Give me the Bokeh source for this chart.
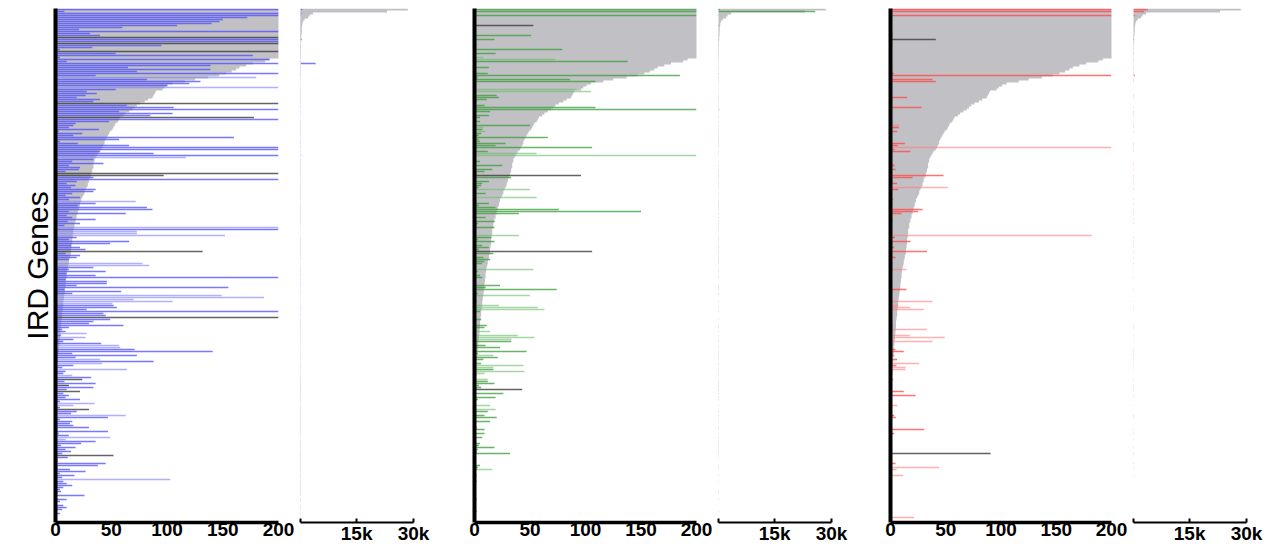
from bokeh.plotting import figure
from bokeh.layouts import row
from bokeh.models import Range1d, FixedTicker
from bokeh.embed import file_html
from bokeh.resources import INLINE

N_ROWS = 256

# reference (gray) distribution, one value per gene row (top row first)
ref_counts = [
    28500, 23000, 3500, 2600, 2200, 1300, 900, 700, 650, 550,
    520, 500, 480, 420, 400, 380, 360, 340, 300, 280,
    260, 250, 240, 220, 210, 192, 188, 177, 171, 165,
    162, 158, 153, 147, 137, 125, 116, 105, 101, 98,
    96, 90, 89, 88, 87, 83, 80, 76, 73, 71,
    69, 66, 63, 61, 58, 57, 56, 54, 53, 52,
    51, 49, 48, 47, 46, 45, 44, 44, 43, 42,
    41, 39, 38, 37, 36, 35, 35, 34, 34, 34,
    33, 33, 32, 32, 31, 30, 30, 29, 29, 28,
    27, 26, 26, 25, 24, 23, 23, 22, 22, 21,
    21, 20, 20, 19, 19, 18, 18, 17, 17, 17,
    16, 16, 16, 15.5, 15.5, 15, 15, 15, 14.5, 14.5,
    14, 14, 14, 13, 13, 12.5, 12, 12, 11.5, 11,
    10.5, 10.5, 10, 10, 10, 9.5, 9.5, 9, 9, 9,
    8.5, 8.5, 8, 8, 7.5, 7.5, 7, 7, 7, 6.5,
    6.5, 6, 6, 6, 5.5, 5.5, 5, 5, 5, 5,
    4.5, 4.5, 4.5, 4, 4, 4, 3.5, 3.5, 3.5, 3,
    3, 3, 3, 2.5, 2.5, 2.5, 2.5, 2, 2, 2,
    2, 2, 2, 1.5, 1.5, 1.5, 1.5, 1.5, 1, 1,
    1, 1, 1, 1, 1, 1, 0.5, 0.5, 0.5, 0.5,
]

# (row, count, kind)  kind: d = dark colour, l = light colour, k = dark gray
panel1_bars = [
    (0, 650, "d"), (1, 8, "d"), (2, 420, "d"), (3, 300, "d"), (4, 172, "d"), (5, 150, "d"),
    (6, 147, "d"), (7, 140, "d"), (8, 109, "d"), (9, 60, "d"), (10, 21, "d"), (11, 380, "d"),
    (12, 31, "d"), (13, 40, "d"), (14, 260, "k"), (15, 520, "d"), (16, 230, "d"), (17, 210, "k"),
    (18, 95, "d"), (19, 33, "d"), (20, 4, "d"), (21, 240, "k"), (22, 54, "d"), (23, 177, "d"),
    (24, 4, "d"), (25, 192, "d"), (26, 10, "d"), (27, 4200, "d"), (28, 139, "d"), (29, 65, "d"),
    (30, 139, "d"), (31, 73, "d"), (32, 350, "d"), (33, 36, "d"), (34, 180, "l"), (35, 82, "d"),
    (36, 130, "d"), (37, 120, "d"), (38, 100, "d"), (39, 280, "l"), (40, 54, "d"), (41, 28, "d"),
    (42, 37, "d"), (43, 27, "d"), (44, 19, "d"), (45, 40, "d"), (46, 34, "d"), (47, 300, "k"),
    (48, 64, "d"), (49, 106, "d"), (50, 260, "d"), (51, 57, "d"), (52, 105, "d"), (53, 85, "d"),
    (54, 178, "k"), (55, 230, "d"), (56, 48, "d"), (57, 18, "d"), (58, 16, "d"), (59, 12, "d"),
    (60, 39, "d"), (61, 3, "d"), (62, 24, "d"), (63, 16, "d"), (64, 160, "d"), (65, 57, "d"),
    (66, 4, "d"), (67, 20, "d"), (68, 66, "d"), (69, 350, "d"), (70, 260, "d"), (71, 40, "d"),
    (72, 88, "d"), (73, 400, "d"), (74, 117, "l"), (75, 34, "d"), (76, 15, "d"), (77, 43, "d"),
    (78, 12, "d"), (79, 22, "d"), (80, 21, "d"), (81, 9, "d"), (82, 290, "k"), (83, 97, "k"),
    (84, 34, "d"), (85, 270, "d"), (86, 19, "d"), (87, 10, "d"), (88, 18, "d"), (89, 14, "d"),
    (90, 36, "d"), (91, 34, "d"), (92, 15, "d"), (93, 9, "d"), (94, 22, "d"), (95, 12, "d"),
    (96, 72, "l"), (97, 36, "d"), (98, 20, "d"), (99, 82, "d"), (100, 87, "d"), (101, 12, "d"),
    (102, 63, "d"), (103, 10, "d"), (104, 15, "d"), (105, 36, "d"), (106, 11, "d"), (107, 22, "d"),
    (108, 8, "d"), (109, 240, "l"), (110, 230, "d"), (111, 73, "l"), (112, 73, "l"), (113, 152, "l"),
    (114, 19, "d"), (115, 12, "d"), (116, 66, "d"), (117, 49, "d"), (118, 14, "d"), (119, 22, "d"),
    (120, 27, "d"), (121, 132, "k"), (122, 9, "d"), (123, 22, "d"), (124, 19, "d"), (125, 12, "d"),
    (127, 78, "l"), (128, 84, "l"), (129, 34, "d"), (130, 12, "d"), (131, 45, "d"), (132, 10, "d"),
    (133, 36, "d"), (134, 260, "d"), (135, 9, "d"), (136, 46, "d"), (137, 46, "d"), (138, 19, "d"),
    (139, 155, "d"), (140, 8, "d"), (141, 59, "d"), (142, 15, "d"), (143, 149, "l"), (144, 187, "l"),
    (145, 70, "l"), (146, 105, "l"), (147, 51, "l"), (148, 52, "d"), (149, 55, "d"), (150, 28, "d"),
    (151, 250, "d"), (152, 43, "d"), (153, 45, "d"), (154, 240, "k"), (155, 49, "d"), (156, 34, "d"),
    (157, 30, "d"), (158, 61, "d"), (159, 12, "d"), (160, 6, "d"), (161, 9, "d"), (162, 28, "l"),
    (163, 5, "d"), (164, 27, "l"), (165, 16, "d"), (166, 7, "d"), (167, 41, "d"), (168, 57, "l"),
    (169, 58, "l"), (170, 71, "d"), (171, 141, "d"), (172, 15, "d"), (173, 73, "d"), (174, 18, "d"),
    (175, 40, "l"), (176, 88, "d"), (177, 42, "l"), (178, 16, "d"), (179, 6, "d"), (180, 64, "l"),
    (181, 9, "d"), (182, 7, "d"), (183, 15, "l"), (184, 32, "d"), (185, 24, "k"), (186, 8, "d"),
    (187, 36, "d"), (188, 12, "k"), (189, 34, "d"), (190, 10, "d"), (191, 22, "k"), (192, 7, "d"),
    (193, 12, "d"), (194, 9, "d"), (195, 22, "d"), (196, 4, "d"), (197, 35, "l"), (198, 16, "l"),
    (199, 4, "d"), (200, 30, "k"), (201, 19, "d"), (202, 14, "d"), (203, 63, "l"), (204, 47, "d"),
    (205, 4, "d"), (206, 15, "d"), (207, 13, "d"), (208, 16, "d"), (209, 30, "d"), (210, 2, "d"),
    (211, 47, "d"), (212, 3, "d"), (213, 12, "d"), (214, 49, "l"), (215, 9, "l"), (216, 36, "d"),
    (217, 23, "d"), (218, 5, "d"), (219, 18, "d"), (220, 9, "d"), (221, 14, "d"), (222, 6, "d"),
    (223, 52, "k"), (224, 11, "d"), (225, 2, "d"), (226, 2, "d"), (227, 45, "d"), (228, 38, "d"),
    (229, 2, "d"), (230, 13, "d"), (231, 27, "d"), (232, 4, "d"), (233, 17, "d"), (234, 6, "d"),
    (235, 103, "l"), (236, 7, "d"), (237, 10, "d"), (238, 15, "d"), (239, 7, "d"), (240, 4, "d"),
    (241, 5, "d"), (242, 2, "d"), (243, 26, "d"), (245, 10, "d"), (246, 4, "d"), (248, 7, "d"),
    (249, 10, "d"), (250, 6, "d"), (252, 4, "d"),
]

panel2_bars = [
    (0, 600, "d"), (1, 25700, "d"), (3, 350, "d"), (8, 53, "k"), (13, 51, "d"), (15, 18, "d"),
    (18, 2, "d"), (20, 79, "d"), (22, 19, "d"), (24, 8, "l"), (25, 73, "l"), (26, 138, "d"),
    (29, 13, "d"), (32, 12, "d"), (33, 185, "d"), (34, 3, "d"), (35, 86, "d"), (36, 109, "d"),
    (40, 92, "l"), (41, 105, "l"), (43, 20, "d"), (44, 22, "d"), (45, 11, "d"), (46, 2, "d"),
    (48, 9, "d"), (49, 109, "d"), (50, 400, "d"), (51, 14, "d"), (53, 13, "d"), (54, 5, "d"),
    (56, 5, "d"), (58, 50, "d"), (59, 8, "l"), (60, 7, "d"), (61, 10, "l"), (62, 6, "d"),
    (63, 4, "d"), (64, 66, "d"), (65, 4, "d"), (66, 5, "d"), (67, 28, "d"), (68, 19, "d"),
    (69, 106, "d"), (71, 12, "d"), (72, 56, "l"), (73, 300, "l"), (76, 5, "d"), (78, 25, "d"),
    (80, 16, "d"), (81, 9, "d"), (82, 2, "d"), (83, 96, "k"), (84, 33, "d"), (86, 13, "d"),
    (87, 7, "d"), (88, 6, "d"), (89, 4, "d"), (90, 50, "l"), (92, 10, "d"), (94, 56, "l"),
    (96, 2, "d"), (97, 13, "d"), (98, 4, "d"), (99, 19, "d"), (100, 76, "d"), (101, 150, "d"),
    (102, 40, "d"), (104, 10, "d"), (106, 18, "d"), (107, 3, "d"), (108, 2, "d"), (109, 18, "d"),
    (111, 1.5, "d"), (113, 40, "l"), (114, 15, "d"), (115, 3, "d"), (116, 18, "d"), (118, 7, "d"),
    (119, 13, "d"), (120, 4, "d"), (121, 106, "k"), (122, 17, "d"), (124, 8, "d"), (125, 14, "d"),
    (126, 9, "d"), (127, 7, "d"), (130, 53, "l"), (131, 3, "d"), (133, 5, "d"), (134, 7, "d"),
    (138, 23, "d"), (139, 10, "d"), (140, 74, "d"), (142, 3, "d"), (143, 50, "l"), (146, 2, "d"),
    (148, 22, "l"), (149, 57, "l"), (150, 63, "l"), (151, 5, "d"), (155, 6, "d"), (158, 11, "d"),
    (159, 9, "d"), (161, 14, "l"), (163, 39, "l"), (164, 54, "l"), (165, 33, "l"), (166, 33, "d"),
    (168, 10, "d"), (169, 23, "d"), (171, 47, "d"), (172, 3, "d"), (173, 17, "l"), (174, 21, "d"),
    (175, 8, "d"), (177, 6, "d"), (178, 44, "l"), (179, 17, "l"), (180, 17, "d"), (181, 45, "l"),
    (182, 9, "l"), (183, 2, "d"), (185, 12, "l"), (186, 12, "d"), (187, 18, "d"), (188, 4, "d"),
    (189, 6, "d"), (190, 43, "k"), (192, 26, "d"), (194, 19, "d"), (195, 3, "d"), (198, 14, "l"),
    (200, 19, "l"), (201, 12, "d"), (203, 9, "d"), (204, 20, "d"), (206, 14, "d"), (209, 2, "d"),
    (210, 9, "d"), (212, 9, "d"), (214, 7, "d"), (216, 2, "l"), (217, 5, "d"), (218, 4, "d"),
    (219, 18, "d"), (220, 3, "d"), (221, 2, "d"), (222, 32, "d"), (224, 1, "d"), (228, 5, "d"),
    (229, 3, "d"), (230, 16, "l"), (233, 2, "d"), (236, 2, "d"), (241, 1, "d"), (242, 1, "d"),
    (245, 2, "d"), (251, 2, "d"),
]

panel3_bars = [
    (0, 4000, "d"), (1, 3000, "d"), (3, 600, "d"), (13, 2, "d"), (15, 41, "k"), (22, 1.5, "d"),
    (25, 1, "d"), (29, 0.6, "d"), (32, 3, "d"), (33, 600, "d"), (35, 38, "d"), (36, 41, "d"),
    (43, 1.2, "d"), (44, 15, "d"), (49, 28, "d"), (51, 1.5, "d"), (52, 1.5, "d"), (53, 1.2, "d"),
    (57, 1.5, "d"), (58, 8, "l"), (59, 7.5, "d"), (61, 6, "d"), (67, 13, "d"), (68, 6.6, "d"),
    (69, 250, "l"), (70, 3.6, "d"), (71, 18, "d"), (77, 2, "d"), (78, 3.6, "d"), (80, 4.5, "d"),
    (83, 48, "d"), (84, 20, "d"), (86, 2, "d"), (87, 6, "d"), (89, 52, "l"), (90, 7, "d"),
    (95, 2.4, "d"), (97, 2, "d"), (100, 29, "d"), (101, 25, "d"), (102, 10, "d"), (105, 2, "d"),
    (107, 1, "d"), (113, 182, "l"), (114, 4, "d"), (116, 18, "d"), (118, 1.5, "d"), (119, 3.3, "d"),
    (121, 33, "d"), (124, 4.5, "d"), (127, 2, "d"), (130, 14.5, "l"), (134, 1.5, "d"), (140, 14.5, "d"),
    (146, 38, "l"), (148, 7, "l"), (149, 17.5, "l"), (150, 30, "l"), (158, 2, "d"), (159, 1.5, "d"),
    (160, 33, "l"), (163, 17.5, "l"), (164, 49, "l"), (166, 38, "l"), (170, 4.5, "d"), (171, 12, "d"),
    (172, 2, "d"), (173, 3.3, "d"), (175, 6, "d"), (177, 26, "l"), (178, 5.4, "d"), (179, 13.6, "l"),
    (180, 13.6, "l"), (185, 2.4, "d"), (188, 1.5, "d"), (189, 1.5, "d"), (191, 12, "d"), (193, 22.7, "d"),
    (198, 6.3, "l"), (203, 3.3, "d"), (204, 4.8, "d"), (210, 30.5, "d"), (212, 3.3, "d"), (215, 0.3, "l"),
    (219, 1.5, "d"), (222, 90.6, "k"), (227, 4.5, "d"), (229, 44, "l"), (230, 5.4, "l"), (233, 11.5, "l"),
    (254, 21.5, "l"),
]

main_ticks = [0, 50, 100, 150, 200]
break_ticks = [200, 15000, 30000]
break_labels = {200: "", 15000: "15k", 30000: "30k"}
y_label = "IRD Genes"

panel_colours = [
    {"d": ("#4b4bff", 0.75), "l": ("#7f7fff", 0.62), "k": ("#3c3c3c", 0.8)},
    {"d": ("#3f9f3f", 0.78), "l": ("#6cbf6c", 0.62), "k": ("#3c3c3c", 0.8)},
    {"d": ("#ff4a4a", 0.78), "l": ("#ff7f7f", 0.62), "k": ("#3c3c3c", 0.8)},
]
GRAY = "#c1c1c5"
FONT = "Liberation Sans"


def make_fig(width, left, right, x_range, main, with_label=False):
    p = figure(width=width, height=549, output_backend="svg", toolbar_location=None,
               x_range=x_range, y_range=Range1d(N_ROWS + 0.5, -0.5),
               min_border_left=left, min_border_right=right,
               min_border_top=8, min_border_bottom=27)
    p.outline_line_color = None
    p.grid.visible = False
    p.background_fill_color = "white"
    p.border_fill_color = "white"
    xa = p.xaxis[0]
    xa.major_label_text_font = FONT
    xa.major_label_text_font_style = "bold"
    xa.major_label_text_font_size = "19px"
    xa.major_label_text_color = "black"
    xa.minor_tick_line_color = None
    xa.major_label_standoff = 0
    if main:
        xa.ticker = FixedTicker(ticks=main_ticks)
        xa.axis_line_width = 3.5
        xa.major_tick_out = 0
        xa.major_tick_in = 0
    else:
        xa.ticker = FixedTicker(ticks=break_ticks)
        xa.major_label_overrides = break_labels
        xa.axis_line_width = 2
        xa.major_tick_line_width = 2
        xa.major_tick_out = 0
        xa.major_tick_in = 4
    ya = p.yaxis[0]
    if main:
        ya.ticker = FixedTicker(ticks=[])
        ya.axis_line_width = 4
        ya.major_label_text_font_size = "0px"
        ya.minor_tick_line_color = None
        ya.major_tick_line_color = None
        ya.major_label_standoff = 0
        if with_label:
            ya.axis_label = y_label
            ya.axis_label_text_font = FONT
            ya.axis_label_text_font_style = "normal"
            ya.axis_label_text_font_size = "30px"
            ya.axis_label_text_color = "black"
            ya.axis_label_standoff = 2
    else:
        ya.visible = False
    return p


def draw(p, bars, colours):
    # gray reference distribution as one stepped area (no seams between rows)
    ys, xs = [], []
    for r, v in enumerate(ref_counts):
        ys += [r - 0.5, r + 0.5]
        xs += [v, v]
    p.harea(y=ys, x1=[0] * len(xs), x2=xs, fill_color=GRAY)
    for kind in ("l", "d", "k"):
        ry = [r for r, v, k in bars if k == kind]
        vs = [v for r, v, k in bars if k == kind]
        if not ry:
            continue
        col, alpha = colours[kind]
        p.hbar(y=ry, left=0, right=vs, height=0.75, fill_color=col,
               fill_alpha=alpha, line_color=None)


layout_spec = [
    (296, 55, 18, 136, 4, 19),
    (282, 42, 18, 135, 4, 18),
    (280, 41, 18, 143, 4, 26),
]
all_bars = [panel1_bars, panel2_bars, panel3_bars]
figs = []
for i, (wm, lm, rm, wb, lb, rb) in enumerate(layout_spec):
    pm = make_fig(wm, lm, rm, Range1d(0, 200), True, with_label=(i == 0))
    pb = make_fig(wb, lb, rb, Range1d(200, 30000), False)
    draw(pm, all_bars[i], panel_colours[i])
    draw(pb, all_bars[i], panel_colours[i])
    figs += [pm, pb]

layout = row(*figs, spacing=0)
open("out.html", "w").write(file_html(layout, INLINE))
